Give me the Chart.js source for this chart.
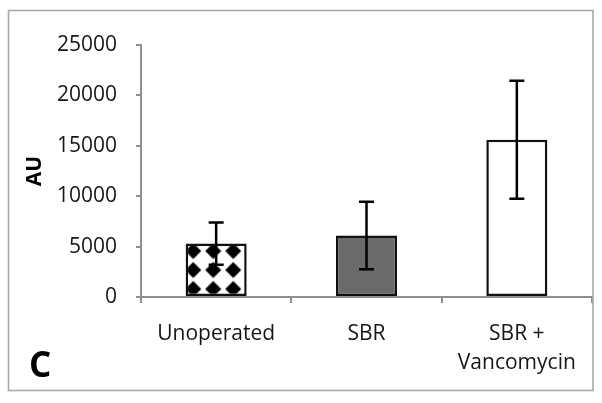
<!DOCTYPE html>
<html>
<head>
<meta charset="utf-8">
<script src="https://cdn.jsdelivr.net/npm/chart.js@4.4.1/dist/chart.umd.min.js"></script>
<style>
  html, body { margin: 0; padding: 0; background: #fff; }
  #wrap { width: 602px; height: 403px; }
</style>
</head>
<body>
<div id="wrap"><canvas id="chart" width="602" height="403"></canvas></div>
<script>
// данные
var categories = ["Unoperated", "SBR", ["SBR +", "Vancomycin"]];
var means = [5300, 6100, 15600];
var errors = [2100, 3350, 5850];
var yTicks = [0, 5000, 10000, 15000, 20000, 25000];
var panelLabel = "C";

var axisGray = "#8f8f8f";
var textColor = "#161616";
var fontFamily = "'Open Sans', Lato, sans-serif";

// узор для первого столбика: чёрные ромбы
function makeDiamondPattern() {
  var c = document.createElement("canvas");
  c.width = 20;
  c.height = 19;
  var g = c.getContext("2d");
  g.fillStyle = "#fff";
  g.fillRect(0, 0, 20, 19);
  g.fillStyle = "#000";
  g.beginPath();
  g.moveTo(10, 1.5);
  g.lineTo(18, 9.5);
  g.lineTo(10, 17.5);
  g.lineTo(2, 9.5);
  g.closePath();
  g.fill();
  return document.getElementById("chart").getContext("2d").createPattern(c, "repeat");
}
var diamonds = makeDiamondPattern();

var pagePlugin = {
  id: "page",
  beforeDraw: function (chart) {
    var ctx = chart.ctx;
    ctx.save();
    ctx.fillStyle = "#fff";
    ctx.fillRect(0, 0, chart.width, chart.height);
    ctx.restore();
  },
  beforeDatasetsDraw: function (chart) {
    // привязка узора к левому нижнему углу столбика
    var bar = chart.getDatasetMeta(0).data[0];
    if (bar && diamonds.setTransform) {
      var left = bar.x - bar.width / 2;
      diamonds.setTransform(new DOMMatrix().translate(left + 7.6 - 10, bar.base - 7 - 9.5));
    }
  },
  afterDatasetsDraw: function (chart) {
    var ctx = chart.ctx;
    var yScale = chart.scales.y;
    var bars = chart.getDatasetMeta(0).data;
    ctx.save();
    ctx.strokeStyle = "#000";
    ctx.lineWidth = 2.5;
    for (var i = 0; i < bars.length; i++) {
      var x = bars[i].x;
      var top = yScale.getPixelForValue(means[i] + errors[i]);
      var bot = yScale.getPixelForValue(means[i] - errors[i]);
      ctx.beginPath();
      ctx.moveTo(x, top);
      ctx.lineTo(x, bot);
      ctx.moveTo(x - 7.5, top);
      ctx.lineTo(x + 7.5, top);
      ctx.moveTo(x - 7.5, bot);
      ctx.lineTo(x + 7.5, bot);
      ctx.stroke();
    }
    ctx.restore();
  },
  afterDraw: function (chart) {
    var ctx = chart.ctx;
    ctx.save();
    ctx.fillStyle = "#000";
    ctx.font = "bold 35px " + fontFamily;
    ctx.textAlign = "left";
    ctx.textBaseline = "alphabetic";
    ctx.fillText(panelLabel, 29, 377);
    ctx.strokeStyle = "#a8a8a8";
    ctx.lineWidth = 1.6;
    ctx.strokeRect(8.5, 10.5, 584.5, 380);
    ctx.restore();
  }
};

var chart = new Chart(document.getElementById("chart").getContext("2d"), {
  type: "bar",
  data: {
    labels: categories,
    datasets: [
      {
        data: means,
        backgroundColor: [diamonds, "#6b6b6b", "#ffffff"],
        borderColor: "#111",
        borderWidth: 2.5,
        borderSkipped: false,
        categoryPercentage: 1,
        barPercentage: 0.406
      }
    ]
  },
  options: {
    responsive: false,
    animation: false,
    devicePixelRatio: 1,
    layout: { padding: { top: 45, right: 10, bottom: 0, left: 0 } },
    plugins: {
      legend: { display: false },
      tooltip: { enabled: false }
    },
    scales: {
      x: {
        type: "category",
        offset: true,
        grid: {
          display: true,
          offset: true,
          drawOnChartArea: false,
          drawTicks: true,
          tickLength: 6,
          color: axisGray,
          lineWidth: 2
        },
        border: { color: axisGray, width: 2 },
        ticks: {
          color: textColor,
          font: { family: fontFamily, size: 21, lineHeight: 1.4 },
          padding: 16,
          maxRotation: 0,
          autoSkip: false
        },
        afterFit: function (s) { s.height = 106; }
      },
      y: {
        min: 0,
        max: 25000,
        afterBuildTicks: function (s) {
          s.ticks = yTicks.map(function (v) { return { value: v }; });
        },
        grid: {
          display: true,
          drawOnChartArea: false,
          drawTicks: true,
          tickLength: 5,
          color: axisGray,
          lineWidth: 2
        },
        border: { color: axisGray, width: 2 },
        ticks: {
          color: textColor,
          font: { family: fontFamily, size: 21 },
          padding: 19,
          callback: function (v) { return String(v); }
        },
        title: {
          display: true,
          text: "AU",
          color: "#000",
          font: { family: fontFamily, size: 21, weight: "bold" },
          padding: { top: 22, bottom: 0 }
        },
        afterFit: function (s) { s.width = 141; }
      }
    }
  },
  plugins: [pagePlugin]
});
</script>
</body>
</html>
